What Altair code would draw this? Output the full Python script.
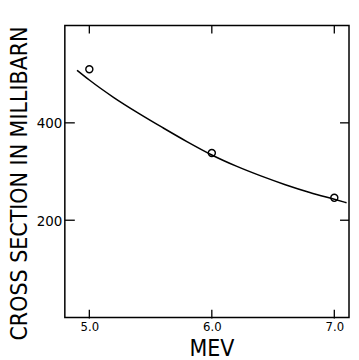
import altair as alt
import pandas as pd

# measured points
energy = [5.0, 6.0, 7.0]
cross_section = [510, 338, 246]
# drawn curve
fit_energy = [4.9, 5.0, 5.2, 5.4, 5.6, 5.8, 6.0, 6.2, 6.4, 6.6, 6.8, 7.0, 7.1]
fit_cross_section = [508, 488, 452, 420, 390, 361, 334, 311, 291, 273, 257, 243, 236]
# ticks
x_ticks = [5.0, 6.0, 7.0]
y_ticks = [200, 400]

W, H = 285, 293
FONT = "Liberation Sans Narrow, DejaVu Sans Condensed, Liberation Sans"

xs = alt.Scale(domain=[4.8, 7.12], nice=False, zero=False)
ys = alt.Scale(domain=[0, 600], nice=False)

pts_df = pd.DataFrame({"MeV": energy, "mb": cross_section})
fit_df = pd.DataFrame({"MeV": fit_energy, "mb": fit_cross_section})
xt_df = pd.DataFrame({"MeV": x_ticks})
yt_df = pd.DataFrame({"mb": y_ticks})

xaxis = alt.Axis(
    values=x_ticks, format=".1f", ticks=False, domain=False, grid=False,
    labelFont=FONT, labelFontSize=13, labelPadding=3, labelColor="black",
    title="MEV", titleFont=FONT, titleFontSize=23, titleFontWeight="normal",
    titleColor="black", titleX=147, titleY=38, titleBaseline="alphabetic",
)
yaxis = alt.Axis(
    values=y_ticks, format="d", ticks=False, domain=False, grid=False,
    labelFont=FONT, labelFontSize=15, labelPadding=3, labelColor="black",
    title="CROSS SECTION IN MILLIBARN", titleFont=FONT, titleFontSize=23,
    titleFontWeight="normal", titleColor="black", titleAngle=270,
    titleX=-33, titleY=158, titleBaseline="bottom",
)

X = alt.X("MeV:Q", scale=xs, axis=xaxis)
Y = alt.Y("mb:Q", scale=ys, axis=yaxis)

line = alt.Chart(fit_df).mark_line(color="black", strokeWidth=1.5, interpolate="monotone").encode(x=X, y=Y)
pts = alt.Chart(pts_df).mark_point(shape="circle", filled=False, color="black", size=50, strokeWidth=1.4, opacity=1).encode(x=X, y=Y)
tick_style = dict(color="black", strokeWidth=1.3)
bottom_ticks = alt.Chart(xt_df).mark_rule(**tick_style).encode(x=X, y=alt.value(H + 1), y2=alt.value(H - 8))
top_ticks = alt.Chart(xt_df).mark_rule(**tick_style).encode(x=X, y=alt.value(0), y2=alt.value(8))
left_ticks = alt.Chart(yt_df).mark_rule(**tick_style).encode(y=Y, x=alt.value(0), x2=alt.value(10))
right_ticks = alt.Chart(yt_df).mark_rule(**tick_style).encode(y=Y, x=alt.value(W), x2=alt.value(W - 9))

chart = alt.layer(line, pts, bottom_ticks, top_ticks, left_ticks, right_ticks).properties(
    width=W, height=H, autosize="none",
    padding={"left": 57, "top": 17, "right": 2, "bottom": 42},
    background="white",
).configure_view(stroke="black", strokeWidth=1.5)

chart.save("out.html", embed_options={"renderer": "svg", "actions": False})
